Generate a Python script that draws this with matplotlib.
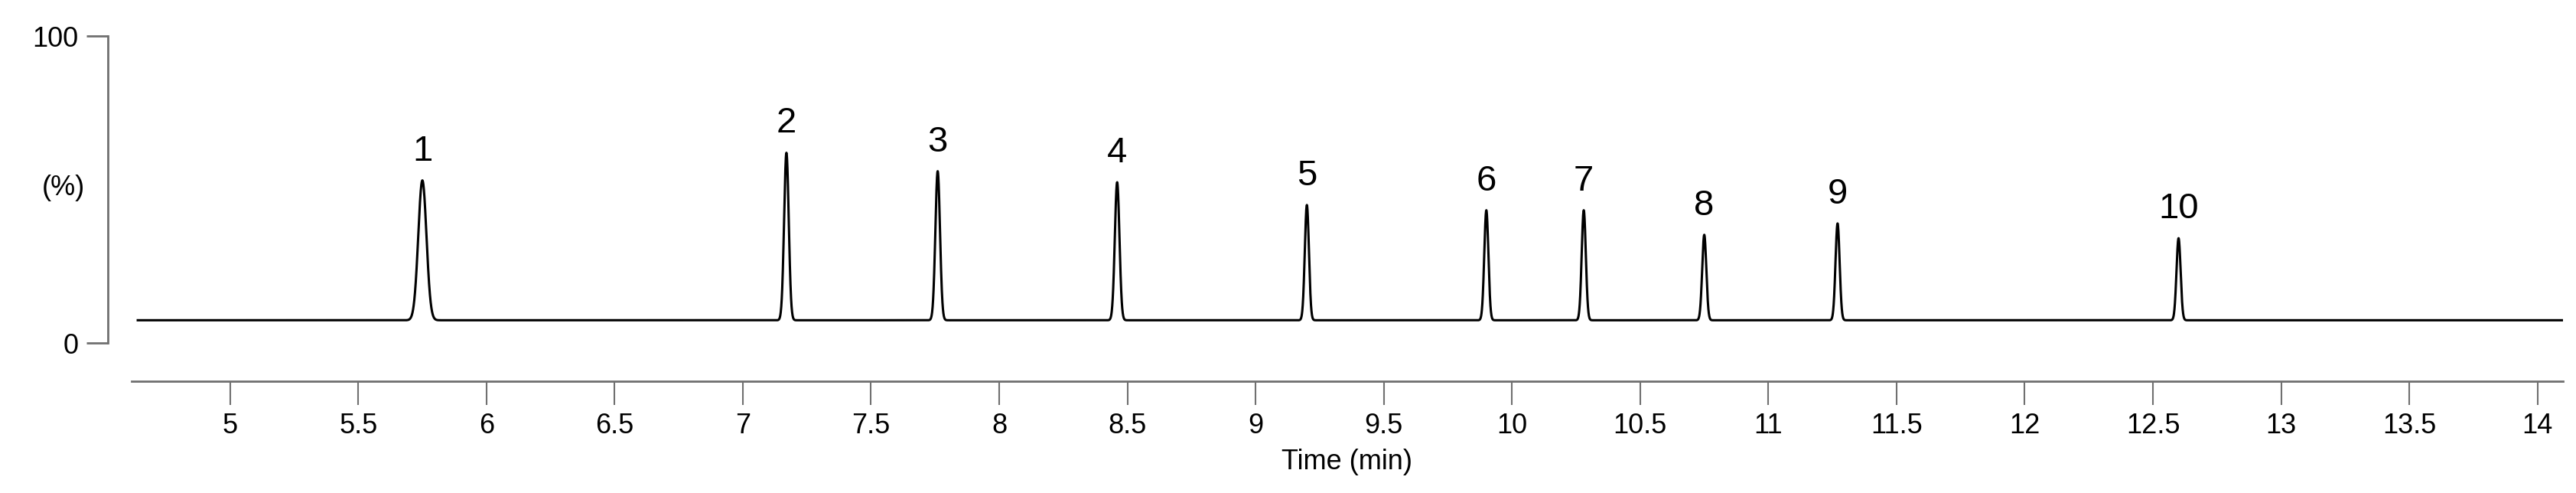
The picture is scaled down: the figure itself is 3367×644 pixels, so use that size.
import numpy as np
import matplotlib.pyplot as plt

plt.rcParams['font.family'] = ['Liberation Sans', 'DejaVu Sans']

#%% Datos leidos del cromatograma
peak_labels = ['1', '2', '3', '4', '5', '6', '7', '8', '9', '10']
peak_times = [5.75, 7.17, 7.76, 8.46, 9.20, 9.90, 10.28, 10.75, 11.27, 12.60]
peak_heights = [53.0, 62.0, 56.0, 52.4, 45.0, 43.3, 43.3, 35.3, 39.0, 34.2]
peak_widths = [0.016, 0.009, 0.009, 0.009, 0.008, 0.008, 0.008, 0.008, 0.008, 0.008]
baseline = 7.5
x_ticks = [5, 5.5, 6, 6.5, 7, 7.5, 8, 8.5, 9, 9.5, 10, 10.5, 11, 11.5, 12, 12.5, 13, 13.5, 14]

#%% Traza
t = np.linspace(4.64, 14.1, 20000)
y = np.full_like(t, baseline)
for t0, h, w in zip(peak_times, peak_heights, peak_widths):
    y += (h - baseline) * np.exp(-0.5 * ((t - t0) / w) ** 2)

fig = plt.figure(figsize=(33.67, 6.44), dpi=100)
ax = fig.add_axes([0.051, 0.227, 0.944, 0.70])
ax.plot(t, y, 'k', linewidth=2.2)

for lab, t0, h in zip(peak_labels, peak_times, peak_heights):
    ax.text(t0, h + 4, lab, ha='center', va='bottom', fontsize=34)

ax.set_xlim(4.615, 14.1)
ax.set_ylim(-12.3, 100)
ax.set_xticks(x_ticks)
ax.set_xticklabels([('%g' % v) for v in x_ticks])
ax.set_yticks([0, 100])
ax.set_yticklabels(['0', '100'])
ax.text(-0.028, 0.56, '(%)', transform=ax.transAxes, ha='center', va='center', fontsize=26)

gray = '#707070'
for s in ['top', 'right']:
    ax.spines[s].set_visible(False)
ax.spines['left'].set_position(('outward', 22))
ax.spines['left'].set_bounds(0, 100)
ax.spines['left'].set_color(gray)
ax.spines['bottom'].set_color(gray)
ax.spines['left'].set_linewidth(2)
ax.spines['bottom'].set_linewidth(2)
ax.tick_params(axis='x', length=22, width=1.5, color=gray, labelsize=26, pad=8)
ax.tick_params(axis='y', length=20, width=2, color=gray, labelsize=26, pad=8)
ax.set_xlabel('Time (min)', fontsize=26, labelpad=8)

fig.savefig('out.png', dpi=100)
